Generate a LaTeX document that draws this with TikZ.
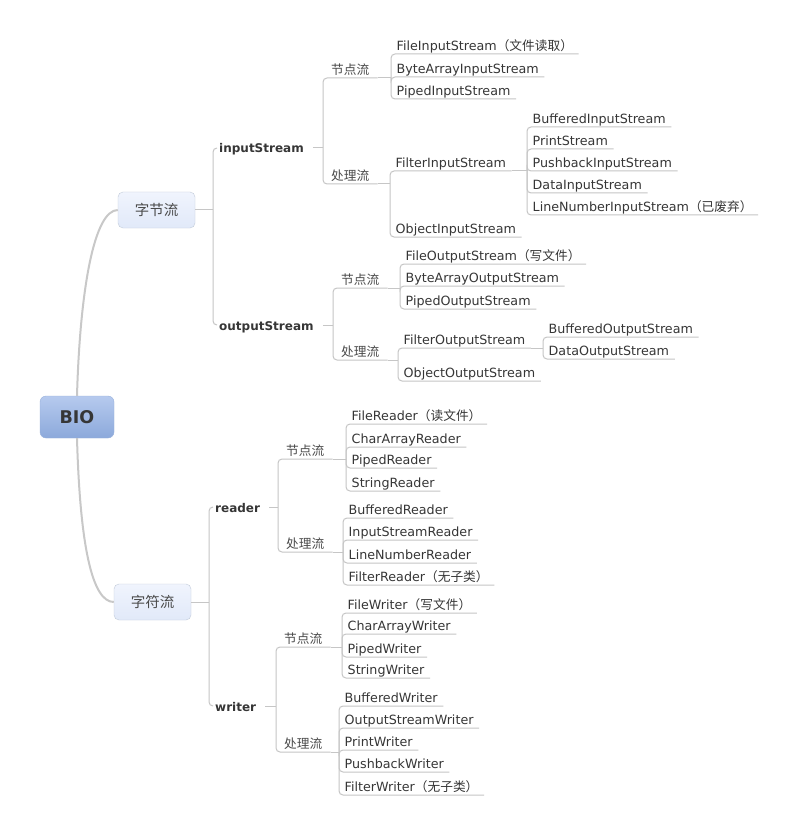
\documentclass[tikz,border=0pt]{standalone}
\usepackage{fontspec}
\setmainfont{DejaVu Sans}
\newfontfamily\cjk{Noto Sans CJK SC}
\definecolor{rootTop}{HTML}{B6CAEE}
\definecolor{rootBot}{HTML}{8CA9DB}
\definecolor{rootLine}{HTML}{98B1DB}
\definecolor{subTop}{HTML}{F0F4FD}
\definecolor{subBot}{HTML}{E1E9F9}
\definecolor{subLine}{HTML}{C2CBDA}
\definecolor{lineGray}{HTML}{C6C6C6}
\definecolor{trunkGray}{HTML}{C8C8C8}
\definecolor{txt}{HTML}{363636}
\tikzset{
  conn/.style={draw=lineGray,line width=1pt,rounded corners=4pt},
  trunk/.style={draw=trunkGray,line width=2pt},
  leaf/.style={anchor=south west,text=txt,font=\fontsize{12.7}{14}\selectfont,
    inner xsep=5.5pt,inner ysep=1pt,text height=10pt,text depth=2pt},
  kind/.style={leaf,inner xsep=8pt,text=txt!90},
  group/.style={anchor=west,text=txt,font=\bfseries\fontsize{12}{14}\selectfont,
    inner sep=0pt,text height=12pt,text depth=2pt},
  sub/.style={draw=subLine,top color=subTop,bottom color=subBot,rounded corners=5pt,
    minimum width=77pt,minimum height=36pt,text=txt!90,font=\fontsize{14.5}{16}\selectfont},
  root/.style={draw=rootLine,top color=rootTop,bottom color=rootBot,rounded corners=6pt,
    minimum width=74pt,minimum height=42pt,text=txt,font=\bfseries\fontsize{17.5}{19}\selectfont}
}
\NewDocumentCommand\Leaf{mmmm}%
{%
\node[leaf] (#1) at (#2,#3) {#4};%
}
\NewDocumentCommand\Kids{mm}%
{%
\foreach \k in {#2} {\draw[conn] (#1) |- (\k.south east);}%
}

\begin{document}
\begin{tikzpicture}[x=1pt,y=-1pt]
\fill[white] (0,0) rectangle (798,834);
\useasboundingbox (0,0) rectangle (798,834);
% root and the two main branches
\node[root] (bio) at (77,417) {BIO};
\node[sub] (zj) at (156.5,210) {\cjk 字节流};
\node[sub] (zf) at (152.5,602) {\cjk 字符流};
\draw[trunk] (bio.north) .. controls (80,290) and (94,210) .. (zj.west);
\draw[trunk] (bio.south) .. controls (80,545) and (92,602) .. (zf.west);

% 字节流
\coordinate (zj-j) at (213,210);
\node[group] (in) at (219,148) {inputStream};
\node[group] (out) at (219,325) {outputStream};
\draw[conn] (zj.east) -- (zj-j);
\foreach \g in {in,out} \draw[conn] (zj-j) |- ([xshift=-2pt]\g.west);

% inputStream
\coordinate (in-j) at (323,148);
\draw[conn] ([xshift=9pt]in.east) -- (in-j);
\node[kind] (inA) at (323,78) {\cjk 节点流};
\node[kind] (inB) at (323,184) {\cjk 处理流};
\Kids{in-j}{inA,inB}
\coordinate (inA-j) at (391,78);
\coordinate (inB-j) at (390,184);
\draw[conn] (inA.south east) -- (inA-j);
\draw[conn] (inB.south east) -- (inB-j);
\Leaf{fis}{391}{54}{FileInputStream{\cjk （文件读取）}}
\Leaf{bais}{391}{77}{ByteArrayInputStream}
\Leaf{pis}{391}{99}{PipedInputStream}
\Kids{inA-j}{fis,bais,pis}
\Leaf{filis}{390}{171}{FilterInputStream}
\Leaf{ois}{390}{237}{ObjectInputStream}
\Kids{inB-j}{filis,ois}
\coordinate (filis-j) at (527,171);
\draw[conn] (filis.south east) -- (filis-j);
\Leaf{bis}{527}{127}{BufferedInputStream}
\Leaf{ps}{527}{149}{PrintStream}
\Leaf{pbis}{527}{171}{PushbackInputStream}
\Leaf{dis}{527}{193}{DataInputStream}
\Leaf{lnis}{527}{215}{LineNumberInputStream{\cjk （已废弃）}}
\Kids{filis-j}{bis,ps,pbis,dis,lnis}

% outputStream
\coordinate (out-j) at (333,325);
\draw[conn] ([xshift=9pt]out.east) -- (out-j);
\node[kind] (outA) at (333,288) {\cjk 节点流};
\node[kind] (outB) at (333,360) {\cjk 处理流};
\Kids{out-j}{outA,outB}
\coordinate (outA-j) at (400,288);
\coordinate (outB-j) at (398,360);
\draw[conn] (outA.south east) -- (outA-j);
\draw[conn] (outB.south east) -- (outB-j);
\Leaf{fos}{400}{264}{FileOutputStream{\cjk （写文件）}}
\Leaf{baos}{400}{286}{ByteArrayOutputStream}
\Leaf{pos}{400}{309}{PipedOutputStream}
\Kids{outA-j}{fos,baos,pos}
\Leaf{filos}{398}{348}{FilterOutputStream}
\Leaf{oos}{398}{381}{ObjectOutputStream}
\Kids{outB-j}{filos,oos}
\coordinate (filos-j) at (543,348);
\draw[conn] (filos.south east) -- (filos-j);
\Leaf{bos}{543}{337}{BufferedOutputStream}
\Leaf{dos}{543}{359}{DataOutputStream}
\Kids{filos-j}{bos,dos}

% 字符流
\coordinate (zf-j) at (209,602);
\node[group] (rd) at (215,507) {reader};
\node[group] (wr) at (215,706) {writer};
\draw[conn] (zf.east) -- (zf-j);
\foreach \g in {rd,wr} \draw[conn] (zf-j) |- ([xshift=-2pt]\g.west);

% reader
\coordinate (rd-j) at (278,507);
\draw[conn] ([xshift=9pt]rd.east) -- (rd-j);
\node[kind] (rdA) at (278,459) {\cjk 节点流};
\node[kind] (rdB) at (278,552) {\cjk 处理流};
\Kids{rd-j}{rdA,rdB}
\coordinate (rdA-j) at (346,459);
\coordinate (rdB-j) at (343,552);
\draw[conn] (rdA.south east) -- (rdA-j);
\draw[conn] (rdB.south east) -- (rdB-j);
\Leaf{fr}{346}{424}{FileReader{\cjk （读文件）}}
\Leaf{car}{346}{447}{CharArrayReader}
\Leaf{pr}{346}{468}{PipedReader}
\Leaf{sr}{346}{491}{StringReader}
\Kids{rdA-j}{fr,car,pr,sr}
\Leaf{br}{343}{518}{BufferedReader}
\Leaf{isr}{343}{540}{InputStreamReader}
\Leaf{lnr}{343}{563}{LineNumberReader}
\Leaf{filr}{343}{585}{FilterReader{\cjk （无子类）}}
\Kids{rdB-j}{br,isr,lnr,filr}

% writer
\coordinate (wr-j) at (276,706);
\draw[conn] ([xshift=9pt]wr.east) -- (wr-j);
\node[kind] (wrA) at (276,647) {\cjk 节点流};
\node[kind] (wrB) at (276,752) {\cjk 处理流};
\Kids{wr-j}{wrA,wrB}
\coordinate (wrA-j) at (342,647);
\coordinate (wrB-j) at (339,752);
\draw[conn] (wrA.south east) -- (wrA-j);
\draw[conn] (wrB.south east) -- (wrB-j);
\Leaf{fw}{342}{613}{FileWriter{\cjk （写文件）}}
\Leaf{caw}{342}{634}{CharArrayWriter}
\Leaf{pw}{342}{657}{PipedWriter}
\Leaf{sw}{342}{678}{StringWriter}
\Kids{wrA-j}{fw,caw,pw,sw}
\Leaf{bw}{339}{706}{BufferedWriter}
\Leaf{osw}{339}{728}{OutputStreamWriter}
\Leaf{prw}{339}{750}{PrintWriter}
\Leaf{pbw}{339}{772}{PushbackWriter}
\Leaf{filw}{339}{795}{FilterWriter{\cjk （无子类）}}
\Kids{wrB-j}{bw,osw,prw,pbw,filw}
\end{tikzpicture}
\end{document}
